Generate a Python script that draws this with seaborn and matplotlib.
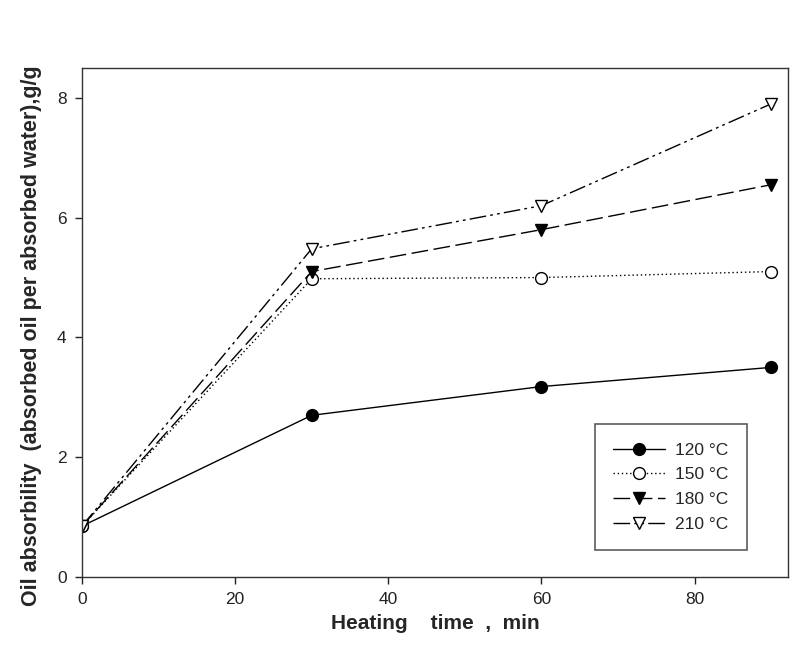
import matplotlib
matplotlib.use("Agg")
import matplotlib.pyplot as plt
import seaborn as sns
import pandas as pd

time_min = [0, 30, 60, 90]
oil_120 = [0.85, 2.70, 3.18, 3.50]
oil_150 = [0.85, 4.98, 5.00, 5.10]
oil_180 = [0.85, 5.10, 5.80, 6.55]
oil_210 = [0.85, 5.48, 6.20, 7.90]
labels = ["120 °C", "150 °C", "180 °C", "210 °C"]
x_ticks = [0, 20, 40, 60, 80]
y_ticks = [0, 2, 4, 6, 8]

sns.set_style("white")
plt.rcParams['font.family'] = ['Liberation Sans', 'DejaVu Sans']

fig = plt.figure(figsize=(8.04, 6.66), dpi=100)
ax = fig.add_axes([0.102, 0.1336, 0.878, 0.7644])

series = [oil_120, oil_150, oil_180, oil_210]
styles = [
    dict(marker='o', linestyle='-', mfc='black'),
    dict(marker='o', linestyle=(0, (1, 2)), mfc='white'),
    dict(marker='v', linestyle=(0, (12, 4)), mfc='black'),
    dict(marker='v', linestyle=(0, (12, 3, 2, 3, 2, 3)), mfc='white'),
]
for vals, lab, st in zip(series, labels, styles):
    df = pd.DataFrame({"t": time_min, "v": vals})
    sns.lineplot(data=df, x="t", y="v", ax=ax, color='black', linewidth=1.0,
                 marker=st['marker'], linestyle=st['linestyle'],
                 markerfacecolor=st['mfc'], markeredgecolor='black',
                 markersize=8.5, markeredgewidth=1.0, label=lab)

ax.set_xlim(0, 92.2)
ax.set_ylim(0, 8.5)
ax.set_xticks(x_ticks)
ax.set_yticks(y_ticks)
ax.tick_params(axis='both', direction='out', length=5, width=1, colors='#222222',
               labelsize=12.5, bottom=True, left=True, pad=6)
for s in ax.spines.values():
    s.set_color('#333333')
    s.set_linewidth(1.0)
ax.set_xlabel("Heating    time  ,  min", fontsize=15, fontweight='bold', labelpad=5)
ax.set_ylabel("Oil absorbility  (absorbed oil per absorbed water),g/g", fontsize=15.5,
              fontweight='bold')
ax.yaxis.set_label_coords(-0.057, 0.475)

leg = ax.legend(loc='lower right', bbox_to_anchor=(0.942, 0.053), borderaxespad=0,
                fontsize=12.5, frameon=True, fancybox=False, edgecolor='#333333',
                handlelength=3.0, borderpad=1.05, labelspacing=0.55, handletextpad=0.6)
leg.get_frame().set_linewidth(1.2)

fig.savefig("out.png", dpi=100)
